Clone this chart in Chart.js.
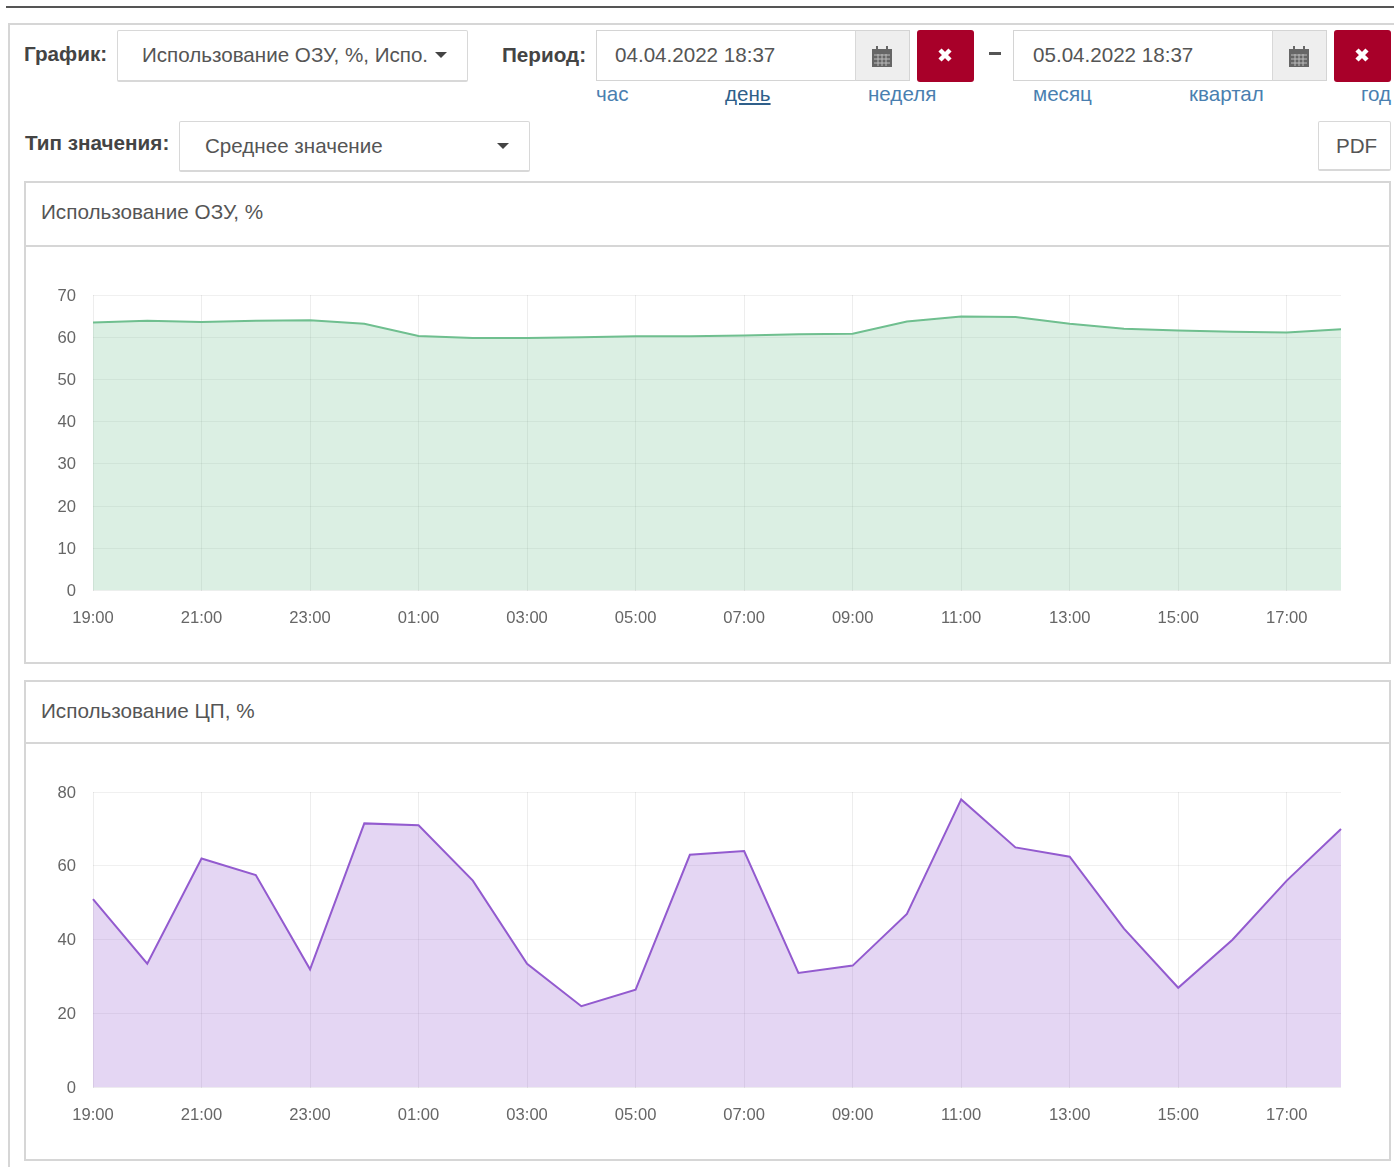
<!DOCTYPE html>
<html lang="ru">
<head>
<meta charset="utf-8">
<title>Использование ОЗУ и ЦП</title>
<script src="https://cdn.jsdelivr.net/npm/chart.js@4"></script>
<style>
  html, body { margin:0; padding:0; background:#fff; }
  body { position:relative; width:1394px; height:1167px; overflow:hidden; font-family:"Liberation Sans",Arial,sans-serif; color:#444; }
  .abs { position:absolute; box-sizing:border-box; }
  .lbl { font-weight:bold; font-size:20.7px; color:#444; line-height:24px; }
  .btn { background:#fff; border:1px solid #d8d8d8; border-bottom:2px solid #d8d8d8; border-radius:2px; font-size:20.6px; line-height:24px; color:#555; white-space:nowrap; overflow:hidden; }
  .inp { background:#fff; border:1px solid #d4d4d4; font-size:20.6px; line-height:24px; color:#555; }
  .cal { background:#eee; border:1px solid #d4d4d4; border-left:1px solid #d8d8d8; }
  .cal svg { position:absolute; left:15px; top:15px; }
  .del { background:#a80029; border-radius:3px; color:#fff; }
  .del svg { position:absolute; left:20px; top:17px; }
  .lnk { color:#4a7fb0; font-size:20.6px; line-height:24px; }
  .caret { width:0; height:0; border-left:6px solid transparent; border-right:6px solid transparent; border-top:6px solid #444; }
  .panel { border:2px solid #d6d6d6; background:#fff; }
  .ttl { font-size:20.7px; line-height:24px; color:#555; }
  canvas { position:absolute; }
</style>
</head>
<body>
<div class="abs" style="left:6px;top:6px;width:1388px;height:2px;background:#555"></div>
<div class="abs" style="left:8px;top:23px;width:1386px;height:2px;background:#d6d6d6"></div>
<div class="abs" style="left:8px;top:23px;width:2px;height:1144px;background:#d6d6d6"></div>

<div class="abs lbl" style="left:24px;top:42px">График:</div>
<div class="abs btn" style="left:117px;top:30px;width:351px;height:52px;padding:12px 0 0 24px">Использование ОЗУ, %, Испо.</div>
<div class="abs caret" style="left:435px;top:52px"></div>

<div class="abs lbl" style="left:502px;top:43px">Период:</div>
<div class="abs inp" style="left:596px;top:30px;width:260px;height:51px;padding:12px 0 0 18px">04.04.2022 18:37</div>
<div class="abs cal" style="left:855px;top:30px;width:55px;height:51px"><svg width="22" height="21" viewBox="0 0 22 21"><rect x="1" y="3" width="20" height="18" fill="#666"/><rect x="5" y="0" width="2" height="4" fill="#666"/><rect x="15" y="0" width="2" height="4" fill="#666"/><path d="M3 9h16M3 13h16M3 17h16M7 8v12M11 8v12M15 8v12" stroke="#bbb" stroke-width="1"/></svg></div>
<div class="abs del" style="left:917px;top:30px;width:57px;height:52px"><svg width="16" height="16" viewBox="0 0 16 16"><path d="M3 3L13 13M13 3L3 13" stroke="#fff" stroke-width="4.5"/></svg></div>
<div class="abs" style="left:989px;top:52px;width:12px;height:3px;background:#555"></div>
<div class="abs inp" style="left:1013px;top:30px;width:260px;height:51px;padding:12px 0 0 19px">05.04.2022 18:37</div>
<div class="abs cal" style="left:1272px;top:30px;width:55px;height:51px"><svg width="22" height="21" viewBox="0 0 22 21"><rect x="1" y="3" width="20" height="18" fill="#666"/><rect x="5" y="0" width="2" height="4" fill="#666"/><rect x="15" y="0" width="2" height="4" fill="#666"/><path d="M3 9h16M3 13h16M3 17h16M7 8v12M11 8v12M15 8v12" stroke="#bbb" stroke-width="1"/></svg></div>
<div class="abs del" style="left:1334px;top:30px;width:57px;height:52px"><svg width="16" height="16" viewBox="0 0 16 16"><path d="M3 3L13 13M13 3L3 13" stroke="#fff" stroke-width="4.5"/></svg></div>

<div class="abs lnk" style="left:596px;top:82px">час</div>
<div class="abs lnk" style="left:725px;top:82px;color:#2f5f8a;text-decoration:underline">день</div>
<div class="abs lnk" style="left:868px;top:82px">неделя</div>
<div class="abs lnk" style="left:1033px;top:82px">месяц</div>
<div class="abs lnk" style="left:1189px;top:82px">квартал</div>
<div class="abs lnk" style="left:1361px;top:82px">год</div>

<div class="abs lbl" style="left:25px;top:131px">Тип значения:</div>
<div class="abs btn" style="left:179px;top:121px;width:351px;height:51px;padding:12px 0 0 25px">Среднее значение</div>
<div class="abs caret" style="left:497px;top:143px"></div>
<div class="abs btn" style="left:1318px;top:121px;width:73px;height:50px;padding:12px 0 0 17px">PDF</div>

<div class="abs panel" style="left:24px;top:181px;width:1367px;height:483px"></div>
<div class="abs" style="left:25px;top:245px;width:1365px;height:2px;background:#d6d6d6"></div>
<div class="abs ttl" style="left:41px;top:200px">Использование ОЗУ, %</div>
<canvas id="ramChart" style="left:26px;top:247px"></canvas>

<div class="abs panel" style="left:24px;top:680px;width:1367px;height:481px"></div>
<div class="abs" style="left:25px;top:742px;width:1365px;height:2px;background:#d6d6d6"></div>
<div class="abs ttl" style="left:41px;top:699px">Использование ЦП, %</div>
<canvas id="cpuChart" style="left:26px;top:744px"></canvas>

<script>
const hours = ['19:00','20:00','21:00','22:00','23:00','00:00','01:00','02:00','03:00','04:00','05:00','06:00',
  '07:00','08:00','09:00','10:00','11:00','12:00','13:00','14:00','15:00','16:00','17:00','18:00'];
const ramValues = [63.5,63.9,63.6,63.9,64,63.2,60.3,59.8,59.8,60,60.2,60.2,60.4,60.7,60.8,63.7,64.9,64.8,63.2,62,61.6,61.3,61.1,61.9];
const cpuValues = [51,33.5,62,57.5,32,71.5,71,56,33.5,22,26.5,63,64,31,33,47,78,65,62.5,43,27,40,56,70];

function drawArea(id, values, yMax, yStep, line, fill) {
  const cv = document.getElementById(id);
  cv.width = 1364; cv.height = 414;
  cv.style.width = '1364px'; cv.style.height = '414px';
  return new Chart(cv, {
    type: 'line',
    data: {
      labels: hours,
      datasets: [{ data: values, borderColor: line, backgroundColor: fill, borderWidth: 2, fill: 'origin', tension: 0, pointRadius: 0 }]
    },
    options: {
      responsive: false, animation: false,
      layout: { padding: { top: 48, right: 49, bottom: 0, left: 0 } },
      plugins: { legend: { display: false }, tooltip: { enabled: false } },
      scales: {
        x: {
          // every second hour has a label and a grid line
          grid: { color: c => c.index % 2 === 0 ? 'rgba(0,0,0,0.07)' : 'rgba(0,0,0,0)', drawTicks: false },
          border: { display: false },
          afterFit: a => { a.height = 70.5; },
          ticks: { color: '#666', font: { size: 16.6, family: '"Liberation Sans"' }, padding: 18, maxRotation: 0, autoSkip: false,
            callback: (v, i) => i % 2 === 0 ? hours[i] : '' }
        },
        y: {
          min: 0, max: yMax,
          grid: { color: 'rgba(0,0,0,0.06)', drawTicks: false },
          border: { display: false },
          afterFit: a => { a.width = 67; },
          ticks: { color: '#666', font: { size: 16.6, family: '"Liberation Sans"' }, padding: 17, stepSize: yStep, labelOffset: 1 }
        }
      }
    }
  });
}

drawArea('ramChart', ramValues, 70, 10, 'rgb(111,191,143)', 'rgba(111,191,143,0.25)');
drawArea('cpuChart', cpuValues, 80, 20, 'rgb(147,91,207)', 'rgba(147,91,207,0.25)');
</script>
</body>
</html>
